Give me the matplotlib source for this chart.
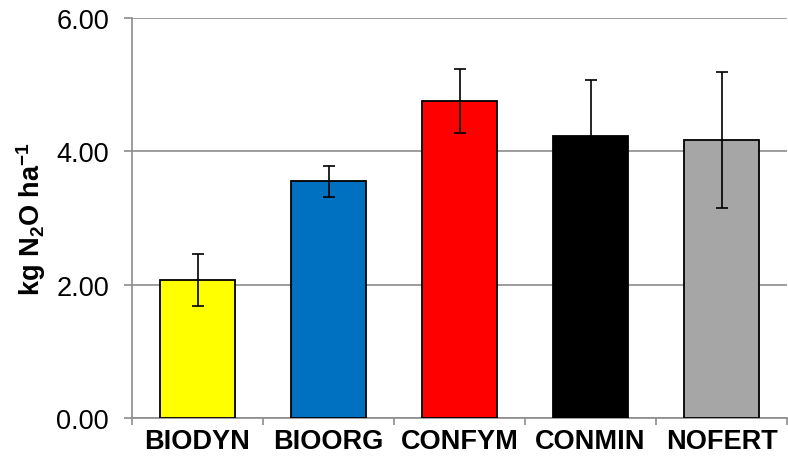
import matplotlib.pyplot as plt
import numpy as np

plt.rcParams["font.family"] = ["Liberation Sans", "DejaVu Sans"]
plt.rcParams["mathtext.fontset"] = "custom"
plt.rcParams["mathtext.rm"] = "Liberation Sans"
plt.rcParams["mathtext.bf"] = "Liberation Sans:bold"
plt.rcParams["mathtext.default"] = "bf"

categories = ["BIODYN", "BIOORG", "CONFYM", "CONMIN", "NOFERT"]
values = [2.07, 3.55, 4.75, 4.23, 4.17]
errors = [0.39, 0.23, 0.48, 0.84, 1.02]
colors = ["#ffff00", "#0070c0", "#ff0000", "#000000", "#a6a6a6"]

fig = plt.figure(figsize=(7.88, 4.64), dpi=100)
ax = fig.add_axes([132 / 788, 45 / 464, 655 / 788, 400 / 464])

x = np.arange(len(categories))
ax.bar(x, values, width=0.57, color=colors, edgecolor="black", linewidth=1.3, zorder=3)
ax.errorbar(x, values, yerr=errors, fmt="none", ecolor="black", elinewidth=1.2,
            capsize=4.5, capthick=1.2, zorder=4)

ax.set_xlim(-0.5, len(categories) - 0.5)
ax.set_ylim(0, 6)
ax.set_yticks([0, 2, 4, 6])
ax.set_yticklabels(["0.00", "2.00", "4.00", "6.00"], fontsize=19.5)
ax.yaxis.grid(True, color="#8c8c8c", linewidth=1.2, zorder=0)

ax.set_xticks(x)
ax.set_xticklabels(categories, fontsize=19.5, fontweight="bold")
ax.tick_params(axis="x", length=0, pad=7)
ax.set_xticks(np.arange(-0.5, len(categories), 1), minor=True)
ax.tick_params(axis="x", which="minor", length=5, color="#8c8c8c", width=1.2)
ax.tick_params(axis="y", length=5.5, color="#8c8c8c", width=1.2, pad=11)

for s in ["top", "right"]:
    ax.spines[s].set_visible(False)
ax.spines["left"].set_color("#8c8c8c")
ax.spines["bottom"].set_color("#8c8c8c")
ax.spines["left"].set_linewidth(1.2)
ax.spines["bottom"].set_linewidth(1.2)

ax.set_ylabel(r"kg N$_2$O ha$^{-1}$", fontsize=19.5, fontweight="bold", labelpad=6)

fig.savefig("out.png", dpi=100)
